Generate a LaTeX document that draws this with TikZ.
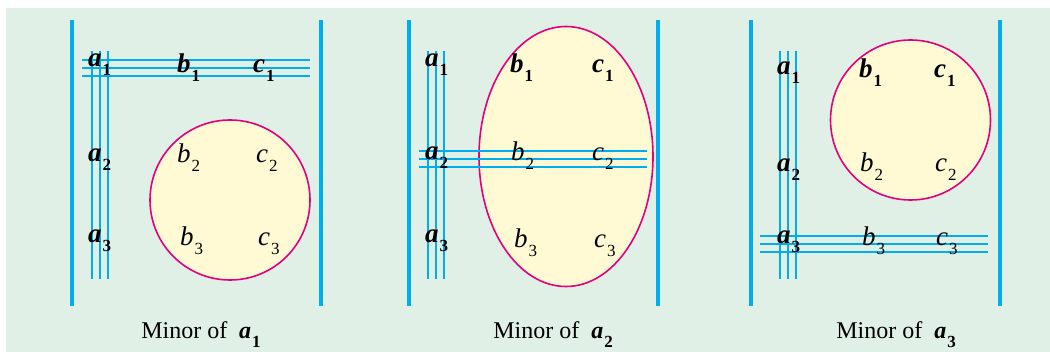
\documentclass[tikz,border=0pt]{standalone}
\usepackage{fontspec}
\setmainfont{Liberation Serif}
\usetikzlibrary{positioning}
\definecolor{mnbg}{RGB}{225,240,231}
\definecolor{mnblue}{RGB}{0,174,239}
\definecolor{mnpink}{RGB}{228,0,124}
\definecolor{mnyellow}{RGB}{255,250,212}
\newcommand{\elem}[2]{\textit{#1}\kern1pt\raisebox{-9pt}{\fontsize{17}{17}\selectfont #2}}
\newcommand{\belem}[2]{\textbf{\textit{#1}}\kern1pt\raisebox{-9pt}{\fontsize{17}{17}\selectfont\bfseries #2}}
\begin{document}
\begin{tikzpicture}[x=1pt, y=-1pt,
  bar/.style={line width=4pt, draw=mnblue},
  rule/.style={line width=1.6pt, draw=mnblue},
  minorbox/.style={line width=1.6pt, draw=mnpink, fill=mnyellow},
  entry/.style={anchor=base west, inner sep=0pt, font=\fontsize{27}{32}\selectfont},
  caption/.style={anchor=base, inner sep=0pt, font=\fontsize{24}{28}\selectfont}
]
\useasboundingbox (0,0) rectangle (1050,352);
\fill[mnbg] (6,8) rectangle (1050,352);
% minors
\draw[minorbox] (230,200) circle[radius=80pt];
\draw[minorbox] (566,156.5) ellipse[x radius=87pt, y radius=130pt];
\draw[minorbox] (910.5,120) circle[radius=80pt];
% crossed-out rows and columns
\foreach \d in {0,8,16} {
  \draw[rule] ({92+\d},51) -- ({92+\d},279);
  \draw[rule] (82,{60+\d}) -- (310,{60+\d});
  \draw[rule] ({428+\d},51) -- ({428+\d},279);
  \draw[rule] (419,{151+\d}) -- (647,{151+\d});
  \draw[rule] ({780+\d},51) -- ({780+\d},279);
  \draw[rule] (760,{236+\d}) -- (988,{236+\d});
}
% determinant bars
\draw[bar] (72,20) -- (72,306);
\draw[bar] (321,20) -- (321,306);
\draw[bar] (409,20) -- (409,306);
\draw[bar] (658,20) -- (658,306);
\draw[bar] (751,20) -- (751,306);
\draw[bar] (1000,20) -- (1000,306);
% panel 1
\node[entry] (pa1) at (88,67) {\belem{a}{1}};
\node[entry] (pb1) at (177,73) {\belem{b}{1}};
\node[entry] (pc1) at (253,73) {\belem{c}{1}};
\node[entry] (pa2) at (88,162) {\belem{a}{2}};
\node[entry] (pb2) at (177,163) {\elem{b}{2}};
\node[entry] (pc2) at (256,163) {\elem{c}{2}};
\node[entry] (pa3) at (88,243) {\belem{a}{3}};
\node[entry] (pb3) at (180,246) {\elem{b}{3}};
\node[entry] (pc3) at (258,246) {\elem{c}{3}};
% panel 2
\node[entry] (qa1) at (425,67) {\belem{a}{1}};
\node[entry] (qb1) at (510,73) {\belem{b}{1}};
\node[entry] (qc1) at (592,73) {\belem{c}{1}};
\node[entry] (qa2) at (425,160) {\belem{a}{2}};
\node[entry] (qb2) at (511,161) {\elem{b}{2}};
\node[entry] (qc2) at (592,161) {\elem{c}{2}};
\node[entry] (qa3) at (425,243) {\belem{a}{3}};
\node[entry] (qb3) at (514,248) {\elem{b}{3}};
\node[entry] (qc3) at (594,248) {\elem{c}{3}};
% panel 3
\node[entry] (ra1) at (777,75) {\belem{a}{1}};
\node[entry] (rb1) at (859,78) {\belem{b}{1}};
\node[entry] (rc1) at (934,78) {\belem{c}{1}};
\node[entry] (ra2) at (777,172) {\belem{a}{2}};
\node[entry] (rb2) at (860,172) {\elem{b}{2}};
\node[entry] (rc2) at (935,172) {\elem{c}{2}};
\node[entry] (ra3) at (777,244) {\belem{a}{3}};
\node[entry] (rb3) at (862,246) {\elem{b}{3}};
\node[entry] (rc3) at (936,246) {\elem{c}{3}};
% captions
\node[caption] (cap1) at (201,339) {Minor of\ \ \belem{a}{1}};
\node[caption] (cap2) at (553,339) {Minor of\ \ \belem{a}{2}};
\node[caption] (cap3) at (896,339) {Minor of\ \ \belem{a}{3}};
\end{tikzpicture}
\end{document}
